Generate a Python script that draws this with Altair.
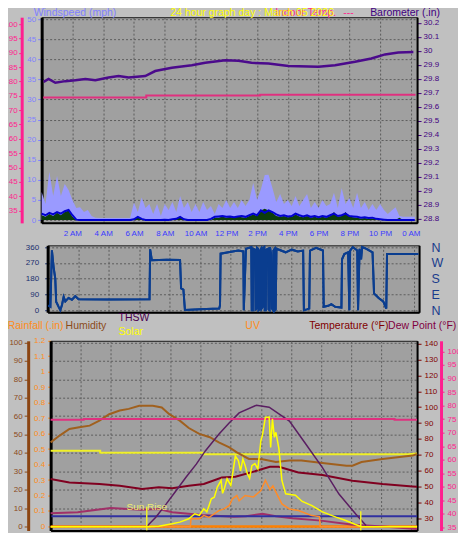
import altair as alt
import pandas as pd

FONT = "Liberation Sans"
GRID = "#5c5c5c"

# ---------------- data ----------------
STEP = 0.25  # wind samples every 15 minutes starting at 0:00
gust = [7, 4, 12, 6, 11, 6, 9, 7.5,
        5, 3, 3.2, 2, 2.5, 1, 0.6, 0.5,
        0.5, 0.5, 0.5, 0.5, 0.5, 0.5, 0.5, 0.5,
        4.4, 2, 5.6, 3, 4, 1.5, 4, 1,
        4, 2.5, 4.5, 2, 6, 3, 4.5, 2,
        4, 2, 4.5, 2.5, 3.5, 1.5, 4, 3,
        5, 3, 4.5, 3, 5, 3.5, 5, 9.2,
        5, 7.7, 11.2, 11.3, 8, 4.5, 6.5, 4,
        5, 3.5, 6, 3.5, 5, 6.5, 3, 4.5,
        3, 5, 3.5, 4, 6.8, 3, 8, 4,
        5.5, 3, 6.8, 3, 4.5, 2.5, 4, 2.5,
        4, 2.5, 1.5, 2.4, 3.2, 1, 0.8, 0.8,
        0.8, 0.8]
wind_avg = [1.6, 1.2, 1.8, 1.4, 2.0, 1.6, 2.2, 2.5,
            1.2, 0.1, 0, 0, 0, 0, 0, 0,
            0, 0, 0, 0, 0, 0, 0, 0,
            0.2, 0.8, 0.3, 0, 0, 0, 0, 0,
            0.1, 0, 0.2, 0.3, 0.8, 0.2, 0, 0,
            0, 0, 0, 0, 0.3, 0.8, 0.9, 1.0,
            0.8, 0.9, 0.7, 0.9, 1.0, 0.8, 1.2, 1.6,
            1.2, 2.4, 1.8, 2.4, 2.0, 1.4, 1.0, 1.2,
            0.9, 1.0, 1.6, 1.2, 0.9, 1.2, 0.8, 1.0,
            0.7, 1.0, 0.8, 1.2, 1.6, 1.0, 1.2, 1.6,
            1.0, 0.9, 0.8, 0.6, 0.7, 0.5, 0.6, 0.3,
            0.2, 0.1, 0, 0, 0, 0, 0, 0,
            0, 0]
wind_10 = [1.2, 0.8, 1.5, 1.0, 1.8, 1.2, 2.0, 2.4,
           0.8, 0, 0, 0, 0, 0, 0, 0,
           0, 0, 0, 0, 0, 0, 0, 0,
           0, 0.9, 0.2, 0, 0, 0, 0, 0,
           0, 0, 0, 0.3, 0.9, 0.3, 0, 0,
           0, 0, 0, 0, 0, 0.6, 0.6, 0.9,
           0.6, 0.8, 0.5, 0.9, 0.7, 0.6, 1.0, 1.4,
           1.0, 2.4, 2.8, 2.4, 1.8, 1.0, 0.8, 1.0,
           0.7, 0.8, 1.4, 0.9, 0.7, 1.0, 0.6, 0.8,
           0.5, 0.8, 0.6, 1.0, 2.0, 0.8, 1.0, 2.0,
           0.8, 0.7, 0.6, 0.4, 0.5, 0.3, 0.4, 0.2,
           0.1, 0, 0, 0, 0, 0.6, 0, 0,
           0, 0]

baro_h = [0.13, 0.45, 0.89, 1.54, 2.19, 2.84, 3.49, 4.35, 5.0, 5.65,
          6.73, 7.38, 8.46, 9.76, 10.63, 11.93, 12.79, 13.64, 14.74, 16.04,
          17.99, 19.07, 20.37, 21.43, 22.32, 23.18, 24.16]
baro = [29.779, 29.80, 29.772, 29.784, 29.79, 29.80, 29.79, 29.81, 29.82, 29.81,
        29.82, 29.856, 29.879, 29.898, 29.915, 29.934, 29.929, 29.915, 29.91, 29.893,
        29.886, 29.898, 29.922, 29.946, 29.975, 29.989, 29.993]

indoor1_h = [0.1, 6.8, 6.8, 14.2, 14.2, 24.3]
indoor1 = [74.4, 74.4, 75.1, 75.1, 75.4, 75.4]

dir_h = [0.05, 0.18, 0.28, 0.39, 0.50, 0.56, 0.61, 0.72, 0.83, 0.94, 1.05, 1.16, 1.37, 1.59, 1.81, 2.03, 4.0, 6.68,
         6.72, 6.83, 7.8, 8.68, 8.75, 8.90, 9.00, 10.0, 11.25, 11.30, 11.34, 11.85, 12.5, 12.83, 12.86, 13.0,
         13.35, 13.38, 13.45, 13.48, 13.60, 13.63, 13.70, 13.73, 13.80, 13.83, 13.90, 13.93, 14.00, 14.03, 14.10, 14.13,
         14.20, 14.23, 14.30, 14.33, 14.45, 14.48, 14.55, 14.58, 14.65, 14.70, 14.78, 14.80, 14.88, 14.90, 14.95, 15.00,
         15.3, 15.6, 16.0, 16.4, 16.75, 16.80, 17.0, 17.15, 17.20, 17.6, 18.05, 18.10, 18.4, 18.6, 18.85, 19.26,
         19.30, 19.45, 19.70, 19.78, 19.83, 20.0, 20.30, 20.35, 20.45, 20.55, 20.62, 20.9, 21.3, 21.4, 21.7, 22.0,
         22.2, 22.25, 24.3]
dir_v = [28, 20, 341, 246, 180, 47, 40, 19, 0, 30, 76, 50, 70, 60, 80, 62, 61, 62,
         347, 285, 287, 286, 125, 118, 2, 5, 10, 28, 322, 330, 340, 335, 0, 350,
         360, 0, 0, 350, 345, 5, 10, 355, 350, 0, 5, 340, 350, 10, 20, 355,
         360, 0, 0, 345, 350, 5, 0, 360, 320, 10, 0, 340, 350, 0, 5, 350,
         340, 330, 345, 335, 340, 0, 5, 10, 340, 355, 340, 20, 25, 35, 20, 15,
         290, 320, 330, 0, 340, 360, 340, 0, 350, 290, 360, 350, 330, 95, 70, 50,
         10, 320, 320]

hum_h = [0.0, 0.6, 1.25, 1.9, 2.6, 3.25, 3.9, 4.6, 5.2, 5.9, 6.8, 7.4, 7.9, 8.6, 9.2, 9.9, 10.6, 11.2,
         11.9, 12.4, 13.2, 14.1, 15.0, 15.9, 16.7, 18.1, 19.7, 20.1, 20.7, 22.1, 24.1, 24.4]
hum = [45.7, 49.4, 53, 53.9, 54.8, 57.5, 61, 63, 63.9, 65.6, 65.6, 64.7, 61, 57.5, 53.5, 50.3, 48.5, 45.7,
       43, 40.3, 36.7, 36.5, 35, 35.8, 35.8, 34.5, 33, 33, 35, 36.7, 38.5, 39.4]

temp_h = [0.0, 1.25, 3.25, 4.6, 6.1, 7.2, 8.1, 9.2, 10.2, 11.4, 12.3, 13.7, 14.6, 15.2, 16.1, 16.5,
          18.1, 20.1, 22.1, 24.1, 24.4]
temp = [54.8, 52.7, 51.7, 50.6, 48.6, 49.6, 49, 50.6, 51.7, 55.8, 56.3, 60, 62.5, 62.5, 60, 59,
        57.3, 53.7, 51.7, 50.2, 50]

dew_h = [0.0, 1.8, 4.0, 6.0, 7.2, 8.1, 10.1, 12.2, 13.0, 14.1, 15.0, 16.1, 18.0, 20.0, 22.1, 24.4]
dew = [33.3, 34, 36.7, 35.6, 36, 34, 32.3, 31.2, 31.5, 33, 31.5, 30.2, 28.7, 26.2, 25, 23.5]

thsw_h = [6.4, 7.0, 7.7, 8.35, 9.0, 9.7, 10.3, 11.2, 11.9, 12.55, 13.7, 14.55, 15.9, 17.0, 18.1, 19.2, 20.3, 21.0]
thsw = [25, 30.8, 39.2, 47.5, 55.8, 64.2, 72.5, 83, 90.2, 96.4, 101.2, 100, 91.2, 76.7, 62, 45.4, 33, 25.6]

navy_h = [0.05, 24.4]
navy = [31.4, 31.4]

indoor3_h = [0.0, 2.2, 2.2, 22.9, 22.9, 24.4]
indoor3 = [74.8, 74.8, 75, 75, 74.8, 74.8]

inhum_h = [0.0, 3.3, 3.3, 10.2, 10.2, 23.8, 24.4]
inhum = [41.2, 41.2, 40, 40, 39.2, 39.2, 39.7]

rain_h = [0.0, 24.4]
rain = [0, 0]

solar_h = [0, 6.4, 7.2, 8.1, 8.6, 9.2, 9.6, 9.9, 10.2, 10.4, 10.55, 10.7, 10.9, 11.1, 11.35, 11.45, 11.55,
           11.75, 12.0, 12.15, 12.3, 12.5, 12.65, 12.8, 12.95, 13.1, 13.25, 13.4, 13.6, 13.8, 14.0, 14.1,
           14.3, 14.55, 14.65, 14.77, 14.9, 15.0, 15.2, 15.4, 15.65, 16.3, 16.75, 17.4, 18.1, 19.0, 19.65,
           20.3, 20.7, 24.4]
solar = [0, 0, 3, 16, 25, 43, 70, 61, 97, 80, 114, 150, 159, 213, 249, 180, 200,
         258, 222, 300, 380, 356, 300, 365, 330, 285, 260, 329, 340, 311, 463, 490,
         588, 590, 427, 580, 481, 508, 420, 249, 177, 170, 136, 114, 80, 52, 34,
         12, 0, 0]

uv_h = [0, 9.3, 9.35, 9.9, 10.2, 10.55, 10.9, 11.2, 11.55, 11.9, 12.1, 12.4, 12.55, 12.95, 13.5, 14.0,
        14.3, 14.6, 14.8, 15.1, 15.4, 15.9, 16.5, 17.4, 17.9, 17.95, 24.4]
uv = [0, 0, 0.43, 0.43, 0.6, 0.5, 0.7, 0.87, 0.96, 1.15, 1.5, 1.68, 1.4, 1.68, 1.6, 1.95,
      2.5, 2.0, 2.2, 1.7, 1.23, 0.96, 0.87, 0.6, 0.55, 0, 0]

sun_h = [6.4, 20.65]
sun_top = [37.5, 34.6]
sun_bot = [22.6, 22.6]
sun_label = ["Sun Rise", ""]

hour_ticks = [2, 4, 6, 8, 10, 12, 14, 16, 18, 20, 22, 24]
wind_ticks = [0, 5, 10, 15, 20, 25, 30, 35, 40, 45, 50]
pink1_ticks = [35, 40, 45, 50, 55, 60, 65, 70, 75, 80, 85, 90, 95, 100]
baro_ticks = [28.8, 28.9, 29.0, 29.1, 29.2, 29.3, 29.4, 29.5, 29.6, 29.7, 29.8, 29.9, 30.0, 30.1, 30.2]
dir_ticks = [0, 90, 180, 270, 360]
hum_ticks = [0, 10, 20, 30, 40, 50, 60, 70, 80, 90, 100]
rain_ticks = [0, 0.1, 0.2, 0.3, 0.4, 0.5, 0.6, 0.7, 0.8, 0.9, 1.0, 1.1, 1.2]
temp_ticks = [30, 40, 50, 60, 70, 80, 90, 100, 110, 120, 130, 140]
pink3_ticks = [35, 40, 45, 50, 55, 60, 65, 70, 75, 80, 85, 90, 95, 100]


def frame(h, v):
    return pd.DataFrame(list(zip(h, v)), columns=["h", "v"])


def steps(vals):
    return [i * STEP for i in range(len(vals))]


LBL = ("datum.value == 12 ? '12 PM' : datum.value == 24 ? '0 AM' : "
       "datum.value < 12 ? datum.value + ' AM' : (datum.value - 12) + ' PM'")
NUM = "format(datum.value, '~g')"
NSEW = ("datum.value == 90 ? 'E' : datum.value == 180 ? 'S' : "
        "datum.value == 270 ? 'W' : 'N'")


def xaxis(labels, pad=7):
    return alt.Axis(values=hour_ticks, labelExpr=LBL, labels=labels, ticks=False,
                    grid=True, gridColor=GRID, gridDash=[2, 2], gridWidth=1,
                    domainColor="#000000", domainWidth=2, labelColor="#3a3aff",
                    labelFontSize=8, labelFont=FONT, labelPadding=pad, title=None)


def xenc(dom, labels, pad=7):
    return alt.X("h:Q", scale=alt.Scale(domain=dom, nice=False, zero=False),
                 axis=xaxis(labels, pad))


def yaxis(orient, values, color, offset=0, dom="#000000", domw=3, tick=4, pad=2,
          grid=False, expr=NUM, size=8, ticks=True):
    return alt.Axis(orient=orient, offset=offset, values=values, labelExpr=expr,
                    domainColor=dom, domainWidth=domw, ticks=ticks, tickColor=color, tickSize=tick,
                    labelColor=color, labelFontSize=size, labelFont=FONT, labelPadding=pad,
                    grid=grid, gridColor=GRID, gridDash=[2, 2], gridWidth=1, title=None)


def text(label, x, y, color, size=10.5):
    return alt.Chart(pd.DataFrame({"t": [label]})).mark_text(
        align="left", baseline="alphabetic", color=color, fontSize=size, font=FONT
    ).encode(text="t:N", x=alt.value(x), y=alt.value(y))


# ---------------- panel 1: wind, barometer, indoor temp ----------------
X1 = xenc([0, 24.4], True, 7)
ws_scale = alt.Scale(domain=[-0.7, 50.5], nice=False, zero=False)
ws_axis = yaxis("left", wind_ticks, "#8080ff", grid=True, pad=2)

gust_c = alt.Chart(frame(steps(gust), gust)).mark_area(color="#9a9aff").encode(
    x=X1, y=alt.Y("v:Q", scale=ws_scale, axis=ws_axis))
w10_c = alt.Chart(frame(steps(wind_10), wind_10)).mark_area(color="#0b3d0b").encode(
    x=X1, y=alt.Y("v:Q", scale=ws_scale, axis=ws_axis))
avg_c = alt.Chart(frame(steps(wind_avg), wind_avg)).mark_line(color="#0000d0", strokeWidth=2).encode(
    x=X1, y=alt.Y("v:Q", scale=ws_scale, axis=ws_axis))
wind_layer = alt.layer(gust_c, w10_c, avg_c)

ind1_c = alt.Chart(frame(indoor1_h, indoor1)).mark_line(color="#e0307f", strokeWidth=2).encode(
    x=X1, y=alt.Y("v:Q", scale=alt.Scale(domain=[30.7, 102.4], nice=False, zero=False),
                  axis=yaxis("left", pink1_ticks, "#ff1f8f", offset=20, dom="#ff1f8f",
                             domw=3, tick=3, pad=1.5)))
baro_c = alt.Chart(frame(baro_h, baro)).mark_line(color="#4b0a8c", strokeWidth=2.5).encode(
    x=X1, y=alt.Y("v:Q", scale=alt.Scale(domain=[28.771, 30.241], nice=False, zero=False),
                  axis=yaxis("right", baro_ticks, "#400080", domw=2, tick=4, pad=2)))

p1 = alt.layer(
    wind_layer, ind1_c, baro_c,
    text("Windspeed (mph)", -8, -1, "#8080ff"),
    text("Indoor Temp.", 234, -1, "#ff2a8f"),
    text("---", 302, -1, "#ff2a8f"),
    text("24 hour graph day : March 05 2026", 129, -1, "#ffff00"),
    text("Barometer (.in)", 329, -1, "#400080"),
).resolve_scale(y="independent").properties(width=376, height=206)

# ---------------- panel 2: wind direction (+ headings of panel 3) ----------------
X2 = xenc([0, 24.35], False)
dir_scale = alt.Scale(domain=[-11.4, 369.7], nice=False, zero=False)
df_dir = frame(dir_h, dir_v)
dir_l = alt.Chart(df_dir).mark_line(color="#0a3d8f", strokeWidth=2).encode(
    x=X2, y=alt.Y("v:Q", scale=dir_scale,
                  axis=yaxis("left", dir_ticks, "#1a2f6e", grid=True, tick=3, pad=6)))
dir_r = alt.Chart(df_dir).mark_line(color="#0a3d8f", strokeWidth=2).encode(
    x=X2, y=alt.Y("v:Q", scale=dir_scale,
                  axis=yaxis("right", dir_ticks, "#1a3c8c", domw=2, ticks=False, pad=12,
                             expr=NSEW, size=12.5)))
p2 = alt.layer(
    dir_l, dir_r,
    text("Rainfall (.in)", -40, 84, "#ff8c1a"),
    text("Humidity", 18, 84, "#8b4a1a"),
    text("THSW", 71, 76, "#4b0050"),
    text("Solar", 71, 90, "#ffff00"),
    text("UV", 198, 84, "#ff8c1a"),
    text("Temperature (°F)", 262, 84, "#800000"),
    text("Dew Point (°F)", 341, 84, "#800040"),
).resolve_scale(y="independent").properties(width=372, height=67)

# ---------------- panel 3: temperature, humidity, rain, solar, uv ----------------
X3 = xenc([0, 24.4], True, 3.5)
hum_scale = alt.Scale(domain=[-2.2, 100.9], nice=False, zero=False)
temp_scale = alt.Scale(domain=[22.5, 141.7], nice=False, zero=False)
temp_axis = yaxis("right", temp_ticks, "#800000", domw=2, tick=4, pad=3)

grid_c = alt.Chart(frame(inhum_h, inhum)).mark_line(color="#f0f028", strokeWidth=2).encode(
    x=X3, y=alt.Y("v:Q", scale=hum_scale,
                  axis=alt.Axis(orient="left", values=hum_ticks, labels=False, ticks=False,
                                domain=False, grid=True, gridColor=GRID, gridDash=[2, 2],
                                gridWidth=1, title=None)))
hum_c = alt.Chart(frame(hum_h, hum)).mark_line(color="#a0601e", strokeWidth=2).encode(
    x=X3, y=alt.Y("v:Q", scale=hum_scale,
                  axis=yaxis("left", hum_ticks, "#8b4a1a", offset=22.5, dom="#8b4513",
                             domw=3, tick=4, pad=2)))
rain_c = alt.Chart(frame(rain_h, rain)).mark_line(color="#ff8000", strokeWidth=2.5).encode(
    x=X3, y=alt.Y("v:Q", scale=alt.Scale(domain=[-0.026, 1.2], nice=False, zero=False),
                  axis=yaxis("left", rain_ticks, "#ff8c1a", domw=3, tick=3, pad=3)))

temp_c = alt.Chart(frame(temp_h, temp)).mark_line(color="#800020", strokeWidth=2).encode(
    x=X3, y=alt.Y("v:Q", scale=temp_scale, axis=temp_axis))
dew_c = alt.Chart(frame(dew_h, dew)).mark_line(color="#a03068", strokeWidth=2).encode(
    x=X3, y=alt.Y("v:Q", scale=temp_scale, axis=temp_axis))
navy_c = alt.Chart(frame(navy_h, navy)).mark_line(color="#3030a0", strokeWidth=2).encode(
    x=X3, y=alt.Y("v:Q", scale=temp_scale, axis=temp_axis))
thsw_c = alt.Chart(frame(thsw_h, thsw)).mark_line(color="#5a1e62", strokeWidth=1.5).encode(
    x=X3, y=alt.Y("v:Q", scale=temp_scale, axis=temp_axis))
df_sun = pd.DataFrame({"h": sun_h, "top": sun_top, "bot": sun_bot, "lab": sun_label})
sun_c = alt.Chart(df_sun).mark_rule(color="#f0f028", strokeWidth=1.5).encode(
    x=X3, y=alt.Y("top:Q", scale=temp_scale, axis=temp_axis), y2="bot:Q")
sunt_c = alt.Chart(df_sun).mark_text(color="#eeee70", fontSize=10, font=FONT,
                                     baseline="middle", align="center").encode(
    x=X3, y=alt.Y("top:Q", scale=temp_scale, axis=temp_axis), text="lab:N")
temp_layer = alt.layer(temp_c, dew_c, navy_c, thsw_c, sun_c, sunt_c)

ind3_c = alt.Chart(frame(indoor3_h, indoor3)).mark_line(color="#e0307f", strokeWidth=2).encode(
    x=X3, y=alt.Y("v:Q", scale=alt.Scale(domain=[33.9, 103.9], nice=False, zero=False),
                  axis=yaxis("right", pink3_ticks, "#ff1f8f", offset=24, dom="#ff1f8f",
                             domw=3, tick=3, pad=3)))
uv_c = alt.Chart(frame(uv_h, uv)).mark_line(color="#ff8c28", strokeWidth=1.5).encode(
    x=X3, y=alt.Y("v:Q", scale=alt.Scale(domain=[-0.2, 10], nice=False, zero=False), axis=None))
solar_c = alt.Chart(frame(solar_h, solar)).mark_line(color="#ffff00", strokeWidth=1.5).encode(
    x=X3, y=alt.Y("v:Q", scale=alt.Scale(domain=[-20, 1000], nice=False, zero=False), axis=None))

p3 = alt.layer(
    grid_c, hum_c, rain_c, temp_layer, ind3_c, uv_c, solar_c,
).resolve_scale(y="independent").properties(width=367, height=190)


def spacer(w, h):
    return alt.Chart(pd.DataFrame({"v": [0]})).mark_point(opacity=0).properties(
        width=w, height=h, view=alt.ViewBackground(fillOpacity=0, strokeOpacity=0))


row2 = alt.hconcat(spacer(6, 67), p2, spacing=0, bounds="flush")
row3 = alt.hconcat(spacer(9, 190), p3, spacing=0, bounds="flush")
upper = alt.vconcat(p1, row2, spacing=1.5)

chart = alt.vconcat(upper, row3, spacing=-2.9).properties(
    background="#c0c0c0",
    padding={"left": -5.3, "top": -1.2, "right": -3, "bottom": -11},
).configure_view(fill="#a0a0a0", stroke="#1a1a1a", strokeWidth=1)

chart.save("out.html", embed_options={"renderer": "svg", "actions": False})
